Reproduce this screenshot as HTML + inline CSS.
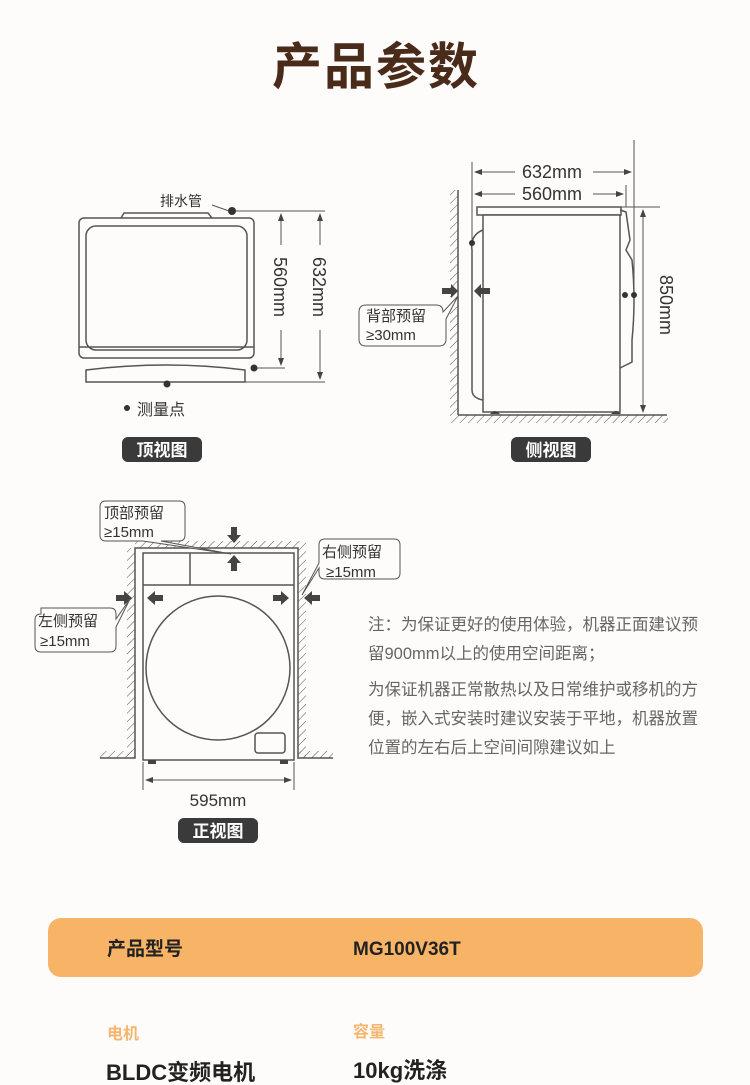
<!DOCTYPE html>
<html><head><meta charset="utf-8"><style>
html,body{margin:0;padding:0;background:#fdfcfb;}
body{width:750px;height:1085px;position:relative;overflow:hidden;font-family:"Liberation Sans","Noto Sans CJK SC",sans-serif;}
svg{position:absolute;left:0;top:0}
</style></head><body>
<svg width="750" height="1085" viewBox="0 0 750 1085" font-family="Liberation Sans, Noto Sans CJK SC, sans-serif">
<defs>
<pattern id="h" width="6" height="6" patternUnits="userSpaceOnUse" patternTransform="rotate(45)">
<line x1="0" y1="0" x2="0" y2="6" stroke="#555" stroke-width="1"/></pattern>
<marker id="a" markerWidth="8" markerHeight="8" refX="7" refY="4" orient="auto-start-reverse"><path d="M0,1 L8,4 L0,7 z" fill="#444"/></marker>
</defs>
<text x="376" y="84" text-anchor="middle" font-size="50" font-weight="bold" fill="#4a2a18" letter-spacing="2" font-family="Noto Sans CJK SC, sans-serif">产品参数</text>

<!-- TOP VIEW -->
<g fill="none" stroke="#555" stroke-width="1.5">
<path d="M121,218 L124,213 L208,213 L212,218"/>
<rect x="79" y="218" width="175" height="140" rx="5" fill="#fdfcfa"/>
<rect x="86" y="226" width="161" height="124" rx="10"/>
<line x1="79" y1="347" x2="254" y2="347"/>
<path d="M86,370 Q167,360 245,370 L245,382 L86,382 Z"/>
<line x1="230" y1="211" x2="325" y2="211" stroke-width="1"/>
<line x1="253" y1="368" x2="285" y2="368" stroke-width="1"/>
<line x1="245" y1="382" x2="325" y2="382" stroke-width="1"/>
<line x1="281" y1="214" x2="281" y2="245" stroke-width="1" marker-start="url(#a)"/>
<line x1="281" y1="330" x2="281" y2="365" stroke-width="1" marker-end="url(#a)"/>
<line x1="320" y1="214" x2="320" y2="245" stroke-width="1" marker-start="url(#a)"/>
<line x1="320" y1="330" x2="320" y2="379" stroke-width="1" marker-end="url(#a)"/>
<line x1="212" y1="205" x2="229" y2="211" stroke-width="1"/>
</g>
<g fill="#333"><circle cx="232" cy="211" r="4"/><circle cx="254" cy="368" r="3.5"/><circle cx="167" cy="384" r="3.5"/><circle cx="127" cy="408" r="3"/></g>
<text x="160" y="206" font-size="14" fill="#333">排水管</text>
<text transform="translate(274,287) rotate(90)" font-size="18" fill="#333" text-anchor="middle">560mm</text>
<text transform="translate(313,287) rotate(90)" font-size="18" fill="#333" text-anchor="middle">632mm</text>
<text x="137" y="415" font-size="16" fill="#333">测量点</text>
<rect x="122" y="437" width="80" height="25" rx="6" fill="#3a3a3a"/>
<text x="162" y="456" font-size="17" fill="#fff" text-anchor="middle" font-weight="bold">顶视图</text>

<!-- SIDE VIEW -->
<rect x="450" y="190" width="8" height="225" fill="url(#h)"/>
<rect x="450" y="415" width="218" height="8" fill="url(#h)"/>
<g fill="none" stroke="#555" stroke-width="1.5">
<line x1="458" y1="190" x2="458" y2="415"/>
<line x1="458" y1="415" x2="667" y2="415"/>
<rect x="477" y="207" width="144" height="8" fill="#fdfcfa"/>
<rect x="483" y="215" width="137" height="197" fill="#fdfcfa"/>
<path d="M483,230 Q470,235 472,250 L472,390 Q472,398 483,400"/>
<path d="M620,210 L626,212 L630,240 L626,250 L632,260 Q636,300 632,340 L632,362 L620,368"/>
<line x1="472" y1="162" x2="472" y2="300" stroke-width="1"/>
<line x1="634" y1="140" x2="634" y2="300" stroke-width="1"/>
<line x1="626" y1="185" x2="626" y2="207" stroke-width="1"/>
<line x1="621" y1="207" x2="660" y2="207" stroke-width="1"/>
<line x1="475" y1="172" x2="515" y2="172" stroke-width="1" marker-start="url(#a)"/>
<line x1="593" y1="172" x2="631" y2="172" stroke-width="1" marker-end="url(#a)"/>
<line x1="475" y1="194" x2="515" y2="194" stroke-width="1" marker-start="url(#a)"/>
<line x1="593" y1="194" x2="623" y2="194" stroke-width="1" marker-end="url(#a)"/>
<line x1="643" y1="210" x2="643" y2="412" stroke-width="1" marker-start="url(#a)" marker-end="url(#a)"/>
</g>
<path d="M490,414 q5,-6 10,0 z M611,414 q5,-6 10,0 z" fill="#444"/>
<g fill="#333"><circle cx="472" cy="243" r="3"/><circle cx="625" cy="295" r="3"/><circle cx="634" cy="295" r="3"/></g>
<text x="552" y="178" font-size="18" fill="#333" text-anchor="middle">632mm</text>
<text x="552" y="200" font-size="18" fill="#333" text-anchor="middle">560mm</text>
<text transform="translate(660,305) rotate(90)" font-size="18" fill="#333" text-anchor="middle">850mm</text>
<g fill="#444">
<path d="M442,288 h9 v-4 l7,7 l-7,7 v-4 h-9z"/>
<path d="M490,288 h-9 v-4 l-7,7 l7,7 v-4 h9z"/>
</g>
<path d="M366,305 h70 q7,0 7,7 v0 l15,-16 l-12,23 v20 q0,7 -7,7 h-73 q-7,0 -7,-7 v-27 q0,-7 7,-7z" fill="#fdfcfa" stroke="#555" stroke-width="1"/>
<text x="366" y="321" font-size="15" fill="#333">背部预留</text>
<text x="366" y="340" font-size="15" fill="#333">≥30mm</text>
<rect x="511" y="437" width="80" height="25" rx="6" fill="#3a3a3a"/>
<text x="551" y="456" font-size="17" fill="#fff" text-anchor="middle" font-weight="bold">侧视图</text>

<!-- FRONT VIEW -->
<rect x="127" y="548" width="8" height="210" fill="url(#h)"/>
<rect x="298" y="548" width="8" height="210" fill="url(#h)"/>
<rect x="135" y="541" width="171" height="7" fill="url(#h)"/>
<rect x="100" y="751" width="35" height="7" fill="url(#h)"/>
<rect x="298" y="751" width="35" height="7" fill="url(#h)"/>
<g fill="none" stroke="#555" stroke-width="1.5">
<path d="M100,758 H135 V548 H298 V758 H333"/>
<rect x="143" y="553" width="151" height="207" fill="#fdfcfa"/>
<line x1="143" y1="585" x2="294" y2="585"/>
<line x1="190" y1="553" x2="190" y2="585"/>
<circle cx="218" cy="668" r="72"/>
<rect x="255" y="733" width="30" height="20" rx="3"/>
<line x1="143" y1="762" x2="143" y2="790" stroke-width="1"/>
<line x1="294" y1="762" x2="294" y2="790" stroke-width="1"/>
<line x1="146" y1="780" x2="291" y2="780" stroke-width="1" marker-start="url(#a)" marker-end="url(#a)"/>
</g>
<path d="M148,764 h8 v-4 h-8z M280,764 h8 v-4 h-8z" fill="#444"/>
<g fill="#444">
<path d="M231,527 h6 v8 h4 l-7,8 l-7,-8 h4z"/>
<path d="M231,571 h6 v-8 h4 l-7,-8 l-7,8 h4z"/>
<path d="M116,595 h8 v-4 l8,7 l-8,7 v-4 h-8z"/>
<path d="M163,595 h-8 v-4 l-8,7 l8,7 v-4 h8z"/>
<path d="M273,595 h8 v-4 l8,7 l-8,7 v-4 h-8z"/>
<path d="M320,595 h-8 v-4 l-8,7 l8,7 v-4 h8z"/>
</g>
<path d="M106,501 h73 q6,0 6,6 v28 q0,6 -6,6 h-18 l70,13 l-88,-13 h-37 q-6,0 -6,-6 v-28 q0,-6 6,-6z" fill="#fdfcfa" stroke="#555" stroke-width="1"/>
<text x="104" y="518" font-size="15" fill="#333">顶部预留</text>
<text x="104" y="537" font-size="15" fill="#333">≥15mm</text>
<path d="M325,539 h69 q6,0 6,6 v28 q0,6 -6,6 h-69 q-6,0 -6,-6 v-5 l-17,27 l17,-32 v-18 q0,-6 6,-6z" fill="#fdfcfa" stroke="#555" stroke-width="1"/>
<text x="322" y="557" font-size="15" fill="#333">右侧预留</text>
<text x="326" y="577" font-size="15" fill="#333">≥15mm</text>
<path d="M41,608 h69 q6,0 6,6 v5 l14,-20 l-14,28 v19 q0,6 -6,6 h-69 q-6,0 -6,-6 v-26 q0,-6 6,-6z" fill="#fdfcfa" stroke="#555" stroke-width="1"/>
<text x="38" y="626" font-size="15" fill="#333">左侧预留</text>
<text x="40" y="646" font-size="15" fill="#333">≥15mm</text>
<text x="218" y="806" font-size="17" fill="#333" text-anchor="middle">595mm</text>
<rect x="178" y="818" width="80" height="25" rx="6" fill="#3a3a3a"/>
<text x="218" y="837" font-size="17" fill="#fff" text-anchor="middle" font-weight="bold">正视图</text>

<g font-size="16.5" fill="#666">
<text x="368" y="630">注：为保证更好的使用体验，机器正面建议预</text>
<text x="368" y="659">留900mm以上的使用空间距离；</text>
<text x="368" y="695">为保证机器正常散热以及日常维护或移机的方</text>
<text x="368" y="724">便，嵌入式安装时建议安装于平地，机器放置</text>
<text x="368" y="753">位置的左右后上空间间隙建议如上</text>
</g>

<rect x="48" y="918" width="655" height="59" rx="13" fill="#f7b466"/>
<text x="107" y="955" font-size="19" font-weight="bold" fill="#222">产品型号</text>
<text x="353" y="955" font-size="19" font-weight="bold" fill="#222">MG100V36T</text>
<text x="107" y="1039" font-size="16" font-weight="bold" fill="#f5b56e">电机</text>
<text x="353" y="1037" font-size="16" font-weight="bold" fill="#f5b56e">容量</text>
<text x="106" y="1080" font-size="22" font-weight="bold" fill="#222">BLDC变频电机</text>
<text x="353" y="1078" font-size="22" font-weight="bold" fill="#222">10kg洗涤</text>
</svg>
</body></html>
